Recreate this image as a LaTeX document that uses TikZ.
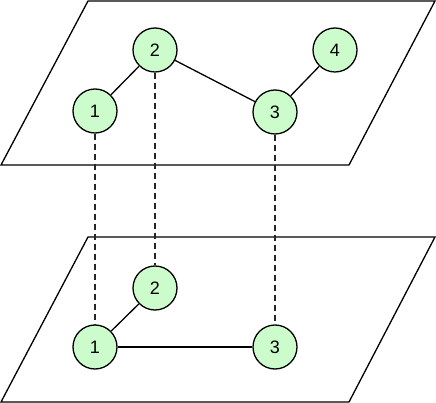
\documentclass[tikz,border=0pt]{standalone}
\usepackage{fontspec}
\setmainfont{Liberation Sans}
\usetikzlibrary{calc,positioning}
\definecolor{nodegreen}{RGB}{204,252,204}

\begin{document}
\begin{tikzpicture} [
        x=1pt, y=-1pt,
        plane/.style={
            draw=black,
            line width=1.3pt,
            fill=white},
        vert/.style={
            circle,
            draw=black,
            line width=1.3pt,
            fill=nodegreen,
            minimum size=44pt,
            inner sep=0pt,
            font=\fontsize{18}{21}\selectfont},
        link/.style={line width=1.3pt},
        proj/.style={line width=1.3pt, dash pattern=on 6pt off 4pt, draw=black!85}]

    \useasboundingbox (0,0) rectangle (436,403);

    % draw the two planes
    \draw[plane] (88,1) -- (435,1) -- (349,165) -- (1,165) -- cycle;
    \draw[plane] (88,237) -- (435,237) -- (349,402) -- (1,402) -- cycle;

    % top layer
    \node[vert] (t1) at (95,111) {1};
    \node[vert] (t2) at (155,50) {2};
    \node[vert] (t3) at (275,112) {3};
    \node[vert] (t4) at (335,50) {4};
    \draw[link] (t1) -- (t2);
    \draw[link] (t2) -- (t3);
    \draw[link] (t3) -- (t4);

    % bottom layer
    \node[vert] (b1) at (95,347) {1};
    \node[vert] (b2) at (155,288) {2};
    \node[vert] (b3) at (275,347) {3};
    \draw[link] (b1) -- (b2);
    \draw[link] (b1) -- (b3);

    % connect the layers
    \foreach \i in {1,2,3} {
        \draw[proj] (t\i.south) -- (b\i.north);
    }

\end{tikzpicture}
\end{document}
